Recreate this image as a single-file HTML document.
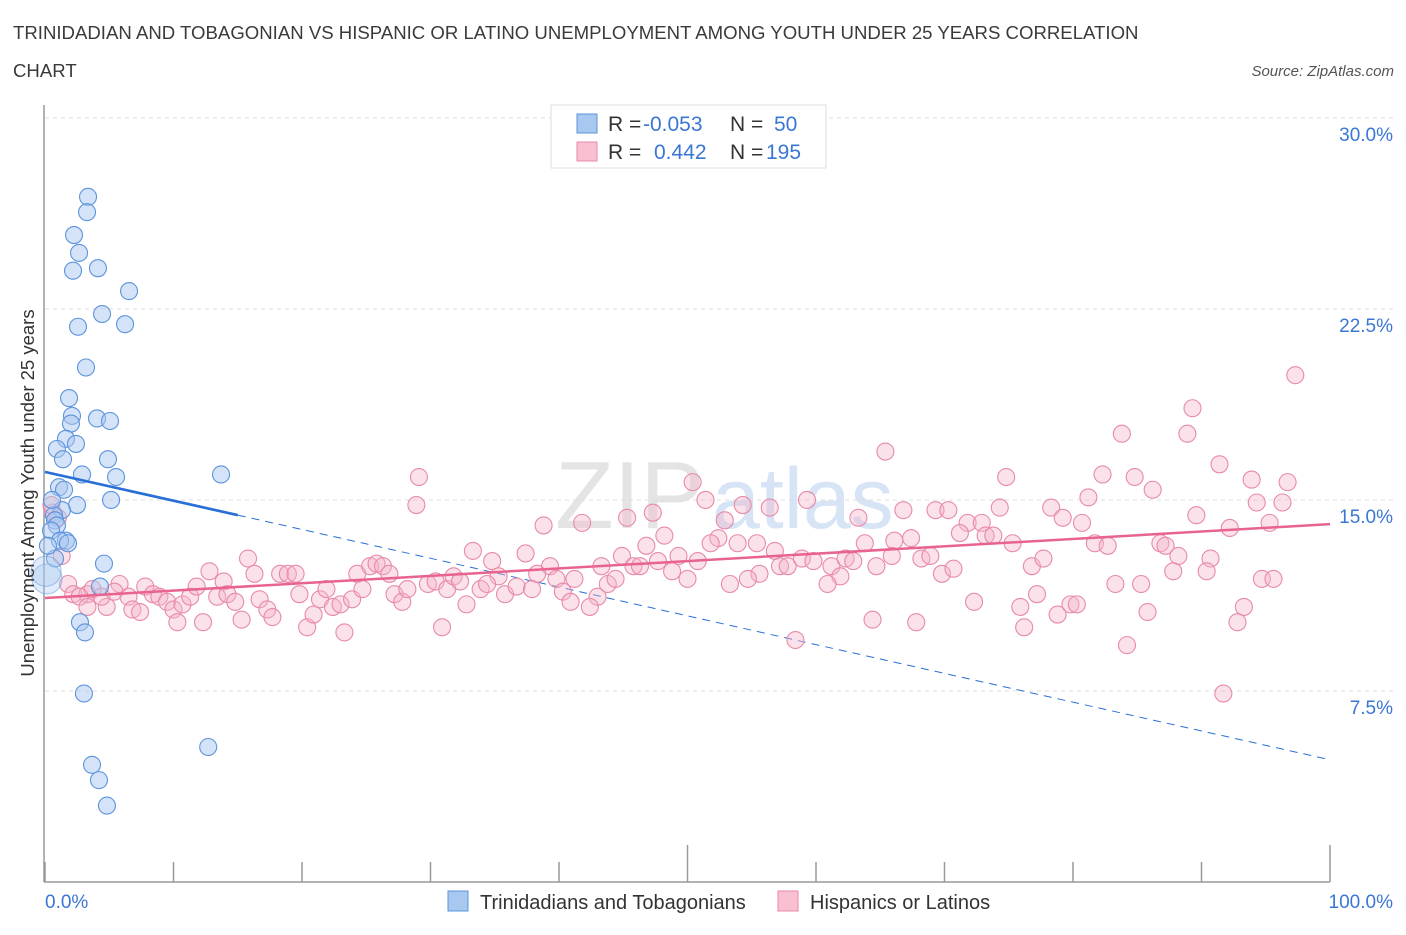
<!DOCTYPE html>
<html><head><meta charset="utf-8"><style>
body{margin:0;background:#fff;font-family:"Liberation Sans",sans-serif}
svg text{font-family:"Liberation Sans",sans-serif}
</style></head><body>
<svg id="chart" width="1406" height="930" xmlns="http://www.w3.org/2000/svg">
<text x="13" y="39" font-size="18.6" fill="#3a3a3a">TRINIDADIAN AND TOBAGONIAN VS HISPANIC OR LATINO UNEMPLOYMENT AMONG YOUTH UNDER 25 YEARS CORRELATION</text>
<text x="13" y="77" font-size="18.6" fill="#3a3a3a">CHART</text>
<text x="1394" y="76" font-size="15" fill="#555" text-anchor="end" font-style="italic">Source: ZipAtlas.com</text>
<g>
<text x="555" y="528" font-size="96" font-family="Liberation Serif" fill="#e4e4e4">ZIP</text>
<text x="712" y="528" font-size="86" fill="#d6e4f6">atlas</text>
</g>
<g id="grid"></g>
<g id="axes"></g>
<g id="trend"></g>
<g id="points"></g>
<text transform="translate(34,493) rotate(-90)" font-size="18.5" fill="#333" text-anchor="middle">Unemployment Among Youth under 25 years</text>
<g>
<rect x="551" y="105" width="275" height="63" fill="#fff" stroke="#ddd"/>
<rect x="577" y="114" width="20" height="19" fill="#a9c8f0" stroke="#5b93dd"/>
<rect x="577" y="142" width="20" height="19" fill="#f8c0d0" stroke="#e98aa8"/>
<text x="608" y="131" font-size="21" fill="#333">R = </text><text x="643" y="131" font-size="21" fill="#3a77d4">-0.053</text>
<text x="730" y="131" font-size="21" fill="#333">N = </text><text x="774" y="131" font-size="21" fill="#3a77d4">50</text>
<text x="608" y="159" font-size="21" fill="#333">R = </text><text x="654" y="159" font-size="21" fill="#3a77d4">0.442</text>
<text x="730" y="159" font-size="21" fill="#333">N = </text><text x="766" y="159" font-size="21" fill="#3a77d4">195</text>
</g>
<g>
<rect x="448" y="891" width="20" height="20" fill="#a9c8f0" stroke="#5b93dd"/>
<text x="480" y="909" font-size="20" fill="#333">Trinidadians and Tobagonians</text>
<rect x="778" y="891" width="20" height="20" fill="#f8c0d0" stroke="#e98aa8"/>
<text x="810" y="909" font-size="20" fill="#333">Hispanics or Latinos</text>
</g>
</svg>
<script>
const yTicks=[7.5,15,22.5,30];
const yTickLabels=["7.5%","15.0%","22.5%","30.0%"];
const xTickVals=[0,10,20,30,40,50,60,70,80,90,100];
const blueX=[3.35,3.27,2.26,2.65,2.18,4.12,6.54,4.44,2.57,6.23,3.19,1.87,2.10,4.05,5.06,2.02,1.63,2.41,0.93,1.40,4.9,13.7,2.88,5.53,1.09,1.48,5.14,2.49,1.32,0.7,0.78,0.93,0.47,1.63,1.17,1.79,4.59,0.78,0.23,0.16,4.28,2.72,3.11,3.03,12.7,3.66,4.2,4.82,0.08,0.54];
const blueY=[26.9,26.3,25.4,24.7,24.0,24.1,23.2,22.3,21.8,21.9,20.2,19.0,18.3,18.2,18.1,18.0,17.4,17.2,17.0,16.6,16.6,16.0,16.0,15.9,15.5,15.4,15.0,14.8,14.6,14.4,14.2,14.0,13.8,13.4,13.4,13.3,12.5,12.7,13.2,11.9,11.6,10.2,9.8,7.4,5.3,4.6,4.0,3.0,12.2,15.0];
const pinkX=[29.1,28.9,15.8,16.3,12.8,5.8,1.8,2.2,3.3,3.7,2.7,3.3,4.8,4.4,5.4,6.5,6.8,7.4,7.8,8.4,8.9,9.5,10.0,10.3,10.7,11.3,11.8,12.3,13.4,13.9,14.2,14.8,15.3,16.7,17.3,17.7,18.3,18.9,19.5,19.8,20.4,20.9,21.4,21.9,22.4,23.0,23.3,23.9,24.3,24.7,25.3,25.8,26.3,26.8,27.2,27.8,28.2,29.8,30.4,30.9,31.3,31.8,1.3,0.6,50.4,51.4,54.3,56.4,59.3,52.9,63.3,38.8,41.8,45.3,47.3,48.2,52.4,51.8,53.9,55.4,56.8,63.8,33.3,34.8,37.4,39.3,43.3,44.9,45.8,46.3,46.8,47.7,49.3,48.8,50.8,50.0,57.2,57.8,58.9,59.8,61.2,62.3,62.9,64.7,61.9,60.9,55.6,54.7,53.3,32.3,33.9,35.3,34.4,35.8,36.7,37.9,38.3,39.8,41.2,40.3,40.9,43.0,42.4,43.8,44.4,32.8,58.4,64.4,97.3,89.3,83.8,88.9,65.4,91.4,74.8,82.3,84.8,86.2,93.9,96.7,81.2,94.3,96.3,66.8,69.3,70.3,74.3,78.3,79.2,80.7,89.6,95.3,92.2,71.8,72.9,71.2,73.2,73.8,66.1,67.4,75.3,81.7,82.7,86.8,87.2,88.2,90.7,90.4,87.8,65.9,68.2,68.9,69.8,70.7,76.8,77.7,83.3,85.3,94.7,95.6,72.3,75.9,77.2,78.8,79.8,80.3,85.8,93.3,92.8,67.8,76.2,84.2,91.7,0.5,1.0];
const pinkY=[15.9,14.8,12.7,12.1,12.2,11.7,11.7,11.3,11.3,11.5,11.2,10.8,10.8,11.2,11.4,11.2,10.7,10.6,11.6,11.3,11.2,11.0,10.7,10.2,10.9,11.2,11.6,10.2,11.2,11.8,11.3,11.0,10.3,11.1,10.7,10.4,12.1,12.1,12.1,11.3,10.0,10.5,11.1,11.5,10.8,10.9,9.8,11.1,12.1,11.5,12.4,12.5,12.4,12.1,11.3,11.0,11.5,11.7,11.8,10.0,11.5,12.0,12.8,14.5,15.7,15.0,14.8,14.7,15.0,14.2,14.3,14.0,14.1,14.3,14.5,13.6,13.5,13.3,13.3,13.3,13.0,13.3,13.0,12.6,12.9,12.4,12.4,12.8,12.4,12.4,13.2,12.6,12.8,12.2,12.6,11.9,12.4,12.4,12.7,12.6,12.4,12.7,12.6,12.4,12.0,11.7,12.1,11.9,11.7,11.8,11.5,12.0,11.7,11.3,11.6,11.5,12.1,11.9,11.9,11.4,11.0,11.2,10.8,11.7,11.9,10.9,9.5,10.3,19.9,18.6,17.6,17.6,16.9,16.4,15.9,16.0,15.9,15.4,15.8,15.7,15.1,14.9,14.9,14.6,14.6,14.6,14.7,14.7,14.3,14.1,14.4,14.1,13.9,14.1,14.1,13.7,13.6,13.6,13.4,13.5,13.3,13.3,13.2,13.3,13.2,12.8,12.7,12.2,12.2,12.8,12.7,12.8,12.1,12.3,12.4,12.7,11.7,11.7,11.9,11.9,11.0,10.8,11.3,10.5,10.9,10.9,10.6,10.8,10.2,10.2,10.0,9.3,7.4,14.8,14.3];
const blueTrend=[16.1,-0.113];
const pinkTrend=[11.15,0.029];
const X0=45,X1=1330,Y0=882;
const xS=v=>X0+(X1-X0)*v/100;
const yS=v=>Y0-v*25.47;
const NS="http://www.w3.org/2000/svg";
function mk(tag,attrs,parent){const e=document.createElementNS(NS,tag);for(const k in attrs)e.setAttribute(k,attrs[k]);parent.appendChild(e);return e;}
const grid=document.getElementById('grid'),axes=document.getElementById('axes'),trend=document.getElementById('trend'),pts=document.getElementById('points');
yTicks.forEach((t,i)=>{
 const l=mk('line',{x1:X0,x2:X1+65,y1:yS(t),y2:yS(t),stroke:'#ddd','stroke-dasharray':'4,4'},grid);
 
 
 const tx=mk('text',{x:1393,y:yS(t)+23,'font-size':19,fill:'#3a77d4','text-anchor':'end'},grid);
 tx.textContent=yTickLabels[i];
 
 
});
const ya=mk('line',{x1:44,x2:44,y1:105,y2:Y0,stroke:'#999','stroke-width':1.5},axes);


const xa=mk('line',{x1:44,x2:X1,y1:Y0,y2:Y0,stroke:'#999','stroke-width':1.5},axes);


xTickVals.forEach((v,i)=>{
 const tk=mk('line',{x1:xS(v),x2:xS(v),y1:(v===50||v===100?845:862),y2:Y0,stroke:'#999','stroke-width':1.5},axes);
 
 
});
const xl0=mk('text',{x:45,y:908,'font-size':19,fill:'#3a77d4'},axes);xl0.textContent='0.0%';


const xl1=mk('text',{x:1393,y:908,'font-size':19,fill:'#3a77d4','text-anchor':'end'},axes);xl1.textContent='100.0%';


function drawPts(xs,ys,fill,stroke,name,op){
 xs.forEach((x,i)=>{
  const big=(name==='blue-point'&&x<0.2&&ys[i]<12.5&&ys[i]>11.5);
  const c=mk('circle',{cx:xS(x),cy:yS(ys[i]),r:big?15:8.5,fill:fill,'fill-opacity':big?0.35:op,stroke:stroke,'stroke-width':1.1,'stroke-opacity':big?0.5:1},pts);
  
  
 });
}
drawPts(pinkX,pinkY,'#f6b3c7','#e88aa8','pink-point',0.4);
drawPts(blueX,blueY,'#a9c8f0','#5b93dd','blue-point',0.5);
const bl=mk('line',{x1:xS(0),y1:yS(blueTrend[0]),x2:xS(15),y2:yS(blueTrend[0]+15*blueTrend[1]),stroke:'#2a6fd6','stroke-width':2.5},trend);


const bd=mk('line',{x1:xS(15),y1:yS(blueTrend[0]+15*blueTrend[1]),x2:xS(100),y2:yS(blueTrend[0]+100*blueTrend[1]),stroke:'#2a6fd6','stroke-width':1,'stroke-dasharray':'8,6'},trend);


const pl=mk('line',{x1:xS(0),y1:yS(pinkTrend[0]),x2:xS(100),y2:yS(pinkTrend[0]+100*pinkTrend[1]),stroke:'#e8638f','stroke-width':2.5},pts);


const bl2=pts.appendChild(bl.cloneNode());


</script>
</body></html>
